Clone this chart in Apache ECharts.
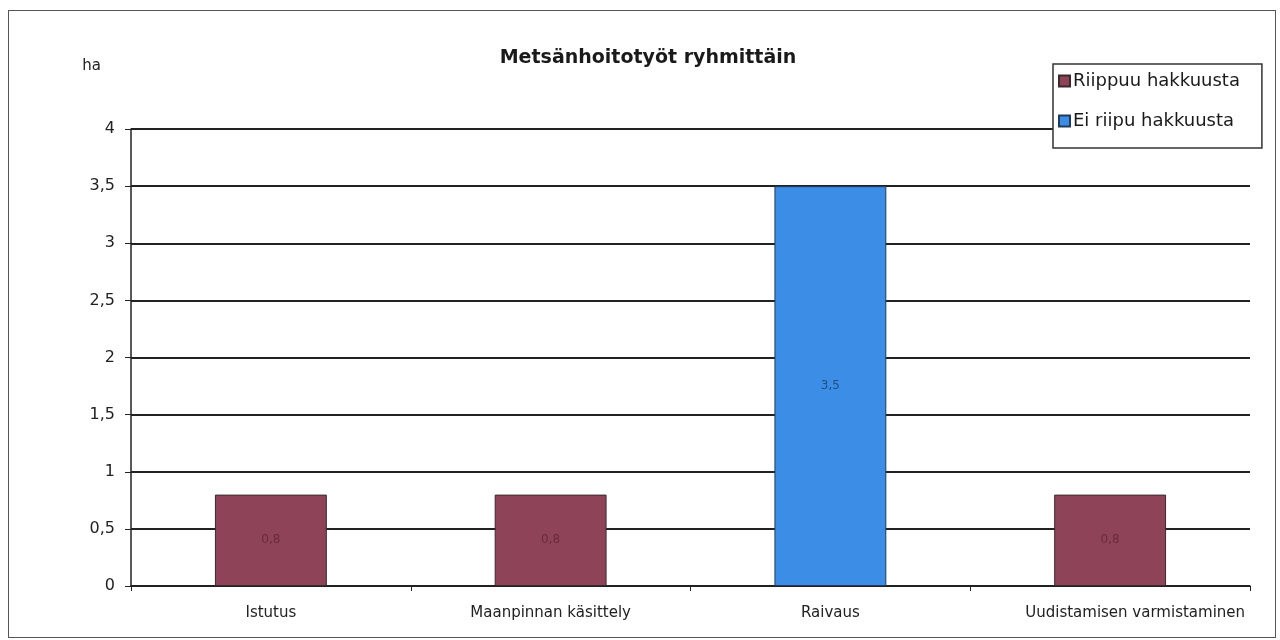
<!DOCTYPE html>
<html>
<head>
<meta charset="utf-8">
<script src="https://cdn.jsdelivr.net/npm/echarts@6/dist/echarts.min.js"></script>
<style>
  html, body { margin: 0; padding: 0; background: #fff; }
  #frame { position: absolute; left: 8px; top: 10px; width: 1268px; height: 628px; border: 1px solid #555; box-sizing: border-box; }
  #chart { position: absolute; left: 0; top: 0; width: 1280px; height: 640px; }
</style>
</head>
<body>
<div id="frame"></div>
<div id="chart"></div>
<script>
// Forest management work by group (hectares)
const categories = ['Istutus', 'Maanpinnan käsittely', 'Raivaus', 'Uudistamisen varmistaminen'];
const dependsOnHarvest = [0.8, 0.8, null, 0.8];   // Riippuu hakkuusta
const independentOfHarvest = [null, null, 3.5, null]; // Ei riipu hakkuusta
const yTicks = [0, 0.5, 1, 1.5, 2, 2.5, 3, 3.5, 4];

const fmt = v => String(v).replace('.', ',');
const wide = 'DejaVu Sans, Verdana, sans-serif';

const chart = echarts.init(document.getElementById('chart'));
const labelStyle = {
  show: true,
  position: 'inside',
  fontFamily: wide,
  fontSize: 12,
  formatter: p => fmt(p.value)
};
chart.setOption({
  animation: false,
  textStyle: { fontFamily: wide },
  title: {
    text: 'Metsänhoitotyöt ryhmittäin',
    left: 643, top: 44, textAlign: 'center',
    textStyle: { fontFamily: wide, fontSize: 19, fontWeight: 'bold', color: '#1a1a1a' }
  },
  legend: {
    orient: 'vertical',
    left: 1053, top: 64,
    z: 10,
    itemWidth: 11, itemHeight: 11, itemGap: 18,
    icon: 'rect',
    padding: [6, 22, 16, 5],
    backgroundColor: '#fff',
    borderColor: '#333', borderWidth: 1.5,
    textStyle: { fontFamily: wide, fontSize: 18, color: '#1a1a1a', padding: [0, 0, 0, -2], lineHeight: 22 },
    data: ['Riippuu hakkuusta', 'Ei riipu hakkuusta']
  },
  grid: { left: 131, right: 30, top: 129, bottom: 54 },
  xAxis: {
    type: 'category',
    data: categories,
    axisLine: { lineStyle: { color: '#222', width: 1.5 } },
    axisTick: { show: true, length: 5, alignWithLabel: false, lineStyle: { color: '#222' } },
    axisLabel: {
      interval: 0,
      fontFamily: wide, fontSize: 15, color: '#222', margin: 20,
      formatter: (v, i) => i === categories.length - 1 ? '{shift|' + v + '}' : v,
      rich: { shift: { fontFamily: wide, fontSize: 15, color: '#222', padding: [0, 0, 0, 50] } }
    }
  },
  yAxis: {
    type: 'value',
    name: 'ha',
    nameLocation: 'end',
    nameGap: 55,
    nameTextStyle: { fontFamily: wide, fontSize: 15, color: '#222', align: 'right', padding: [0, 30, 0, 0] },
    min: 0, max: 4, interval: 0.5,
    axisLine: { show: true, lineStyle: { color: '#222', width: 1.5 } },
    axisTick: { show: true, length: 6, lineStyle: { color: '#222' } },
    axisLabel: { fontFamily: wide, fontSize: 16, color: '#222', margin: 16, formatter: v => yTicks.includes(v) ? fmt(v) : '' },
    splitLine: { lineStyle: { color: '#222', width: 2 } }
  },
  series: [
    {
      name: 'Riippuu hakkuusta',
      type: 'bar', stack: 'ha', barWidth: '40%',
      data: dependsOnHarvest,
      itemStyle: { color: '#8e4358', borderColor: '#3a2a2e', borderWidth: 1 },
      label: Object.assign({}, labelStyle, { color: '#6a2a3c' })
    },
    {
      name: 'Ei riipu hakkuusta',
      type: 'bar', stack: 'ha', barWidth: '40%',
      data: independentOfHarvest,
      itemStyle: { color: '#3b8de6', borderColor: '#243a5a', borderWidth: 1 },
      label: Object.assign({}, labelStyle, { color: '#1f4e80' })
    }
  ]
});
</script>
</body>
</html>
